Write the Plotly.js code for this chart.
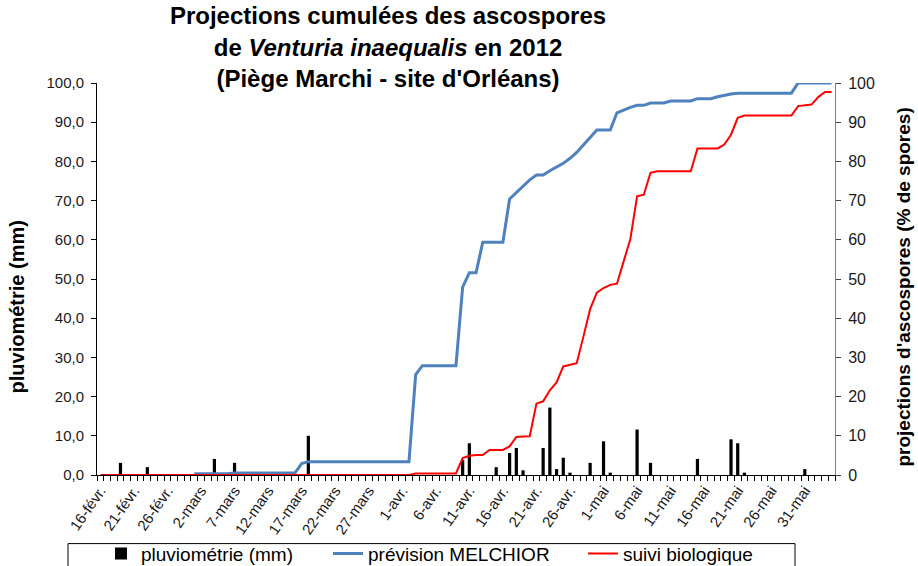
<!DOCTYPE html>
<html>
<head>
<meta charset="utf-8">
<script src="https://cdn.plot.ly/plotly-3.0.1.min.js"></script>
<style>html,body{margin:0;padding:0;background:#fff;}#chart{width:918px;height:566px;}</style>
</head>
<body>
<div id="chart"></div>
<script>
// Rainfall (mm) — days with rain
const rainDates = ['2012-02-19','2012-02-23','2012-03-04','2012-03-07','2012-03-18',
  '2012-04-10','2012-04-11','2012-04-15','2012-04-17','2012-04-18','2012-04-19',
  '2012-04-22','2012-04-23','2012-04-24','2012-04-25','2012-04-26','2012-04-29',
  '2012-05-01','2012-05-02','2012-05-06','2012-05-08','2012-05-15','2012-05-20',
  '2012-05-21','2012-05-22','2012-05-31'];
const rainValues = [3.1, 2.0, 4.1, 3.1, 10.0,
  3.8, 8.1, 2.0, 5.6, 6.9, 1.2,
  6.9, 17.2, 1.5, 4.4, 0.6, 3.1,
  8.6, 0.6, 11.6, 3.1, 4.1, 9.1,
  8.1, 0.6, 1.5];

// MELCHIOR forecast (% cumulated), daily from 1 March to 4 June
const melchiorStart = '2012-03-01';
const melchior = [
  0.3, 0.3, 0.3, 0.3, 0.3, 0.3,
  0.5, 0.5, 0.5, 0.5, 0.5, 0.5, 0.5, 0.5, 0.5, 0.5,
  2.9,
  3.4, 3.4, 3.4, 3.4, 3.4, 3.4, 3.4, 3.4, 3.4, 3.4, 3.4, 3.4, 3.4, 3.4, 3.4, 3.4,
  25.6,
  27.9, 27.9, 27.9, 27.9, 27.9, 27.9,
  47.9, 51.6, 51.6,
  59.4, 59.4, 59.4, 59.4,
  70.4, 72.0, 73.7, 75.3, 76.5, 76.5, 77.6, 78.6, 79.5, 80.8, 82.3, 84.2, 86.1,
  88.0, 88.0, 88.0, 92.4, 93.2, 93.8, 94.3, 94.3, 94.9, 94.9, 94.9,
  95.4, 95.4, 95.4, 95.4, 96.0, 96.0, 96.0, 96.5, 96.9, 97.2,
  97.4, 97.4, 97.4, 97.4, 97.4, 97.4, 97.4, 97.4, 97.4,
  100, 100, 100, 100, 100, 100
];

// Biological monitoring (% cumulated), daily from 16 February to 4 June
const suiviStart = '2012-02-16';
const suivi = [
  0, 0, 0, 0, 0, 0, 0, 0, 0, 0, 0, 0, 0, 0, 0, 0, 0, 0, 0, 0,
  0, 0, 0, 0, 0, 0, 0, 0, 0, 0, 0, 0, 0, 0, 0, 0, 0, 0, 0, 0,
  0, 0, 0, 0, 0, 0, 0,
  0.4, 0.4, 0.4, 0.4, 0.4, 0.4, 0.4,
  4.3, 4.9, 5.1, 5.1, 6.4, 6.4, 6.4, 7.3, 9.7, 9.8, 9.9,
  18.2, 18.8, 21.6, 23.6, 27.7, 28.1, 28.5, 35.3, 42.3, 46.5,
  47.7, 48.5, 48.8, 54.5, 60.2, 71.1, 71.5, 77.1,
  77.5, 77.5, 77.5, 77.5, 77.5, 77.5,
  83.3, 83.3, 83.3, 83.3, 84.3, 86.8, 91.1,
  91.7, 91.7, 91.7, 91.7, 91.7, 91.7, 91.7, 91.7,
  94.1, 94.3, 94.5, 96.4, 97.7, 97.7
];

// Tick labels of the date axis
const tickDates = ['2012-02-16','2012-02-21','2012-02-26','2012-03-02','2012-03-07',
  '2012-03-12','2012-03-17','2012-03-22','2012-03-27','2012-04-01','2012-04-06',
  '2012-04-11','2012-04-16','2012-04-21','2012-04-26','2012-05-01','2012-05-06',
  '2012-05-11','2012-05-16','2012-05-21','2012-05-26','2012-05-31'];
const tickLabels = ['16-févr.','21-févr.','26-févr.','2-mars','7-mars','12-mars',
  '17-mars','22-mars','27-mars','1-avr.','6-avr.','11-avr.','16-avr.','21-avr.',
  '26-avr.','1-mai','6-mai','11-mai','16-mai','21-mai','26-mai','31-mai'];

const DAY = 86400000;
const FONT = 'Liberation Sans, Arial, sans-serif';
const NB = '\u00A0';

const traces = [
  {
    type: 'bar', name: 'pluviométrie (mm)',
    x: rainDates, y: rainValues,
    width: 0.48 * DAY,
    marker: {color: '#000000'},
    yaxis: 'y', legend: 'legend'
  },
  {
    type: 'scatter', mode: 'lines', name: 'prévision MELCHIOR',
    x0: melchiorStart, dx: DAY, y: melchior,
    line: {color: '#4f81bd', width: 3},
    yaxis: 'y2', legend: 'legend2'
  },
  {
    type: 'scatter', mode: 'lines', name: 'suivi biologique',
    x0: suiviStart, dx: DAY, y: suivi,
    line: {color: '#ff0000', width: 2},
    yaxis: 'y2', legend: 'legend3'
  }
];

const legendBase = {
  orientation: 'h', xanchor: 'left', yanchor: 'top', y: -0.152,
  bgcolor: 'rgba(0,0,0,0)', borderwidth: 0,
  font: {family: FONT, size: 19, color: '#000000'}
};

const layout = {
  width: 918, height: 566,
  margin: {l: 97, r: 83, t: 83, b: 91, pad: 0, autoexpand: false},
  paper_bgcolor: '#ffffff', plot_bgcolor: '#ffffff',
  separators: ', ',
  font: {family: FONT, color: '#000000', size: 15},
  showlegend: true,
  title: {
    text: '<b>Projections cumulées des ascospores<br>de <i>Venturia inaequalis</i> en 2012<br>(Piège Marchi - site d\'Orléans)</b>',
    font: {family: FONT, size: 24, color: '#000000'},
    x: 0.4227, xanchor: 'center', xref: 'container',
    y: 0.957, yanchor: 'middle', yref: 'container'
  },
  xaxis: {
    type: 'date',
    range: ['2012-02-15 12:00', '2012-06-04 12:00'],
    tickmode: 'array', tickvals: tickDates, ticktext: tickLabels,
    tickangle: -55, ticks: '',
    tickfont: {family: FONT, size: 15, color: '#1a1a1a'},
    showline: true, linecolor: '#000000', linewidth: 1,
    showgrid: false, zeroline: false,
    minor: {tickmode: 'linear', tick0: '2012-02-15 12:00', dtick: DAY,
            ticks: 'outside', ticklen: 5, tickcolor: '#000000', tickwidth: 1, showgrid: false},
    fixedrange: true
  },
  yaxis: {
    range: [0, 100], dtick: 10, tick0: 0, tickformat: '.1f',
    ticks: 'outside', ticklen: 5, tickcolor: '#000000',
    ticklabelstandoff: 4,
    showline: true, linecolor: '#000000', linewidth: 1,
    showgrid: false, zeroline: false,
    tickfont: {family: FONT, size: 15, color: '#1a1a1a'},
    title: {text: '<b>pluviométrie (mm)' + NB.repeat(10) + '</b>', font: {family: FONT, size: 20, color: '#000000'}, standoff: 16},
    fixedrange: true
  },
  yaxis2: {
    overlaying: 'y', side: 'right',
    range: [0, 100], dtick: 10, tick0: 0,
    ticks: 'outside', ticklen: 5, tickcolor: '#404040',
    ticklabelstandoff: 4,
    showline: true, linecolor: '#808080', linewidth: 1,
    showgrid: false, zeroline: false,
    tickfont: {family: FONT, size: 16, color: '#1a1a1a'},
    title: {text: '<b>projections d\'ascospores (% de spores)' + NB.repeat(3) + '</b>', font: {family: FONT, size: 19, color: '#000000'}, standoff: 22},
    fixedrange: true
  },
  legend: Object.assign({}, legendBase, {x: 0.0054}),
  legend2: Object.assign({}, legendBase, {x: 0.313}),
  legend3: Object.assign({}, legendBase, {x: 0.6585}),
  shapes: [
    {type: 'rect', xref: 'paper', yref: 'paper',
     x0: -0.0393, x1: 0.9458, y0: -0.175, y1: -0.40,
     line: {color: '#000000', width: 1}, fillcolor: 'rgba(0,0,0,0)', layer: 'below'}
  ]
};

Plotly.newPlot('chart', traces, layout, {displayModeBar: false, staticPlot: true});
</script>
</body>
</html>
